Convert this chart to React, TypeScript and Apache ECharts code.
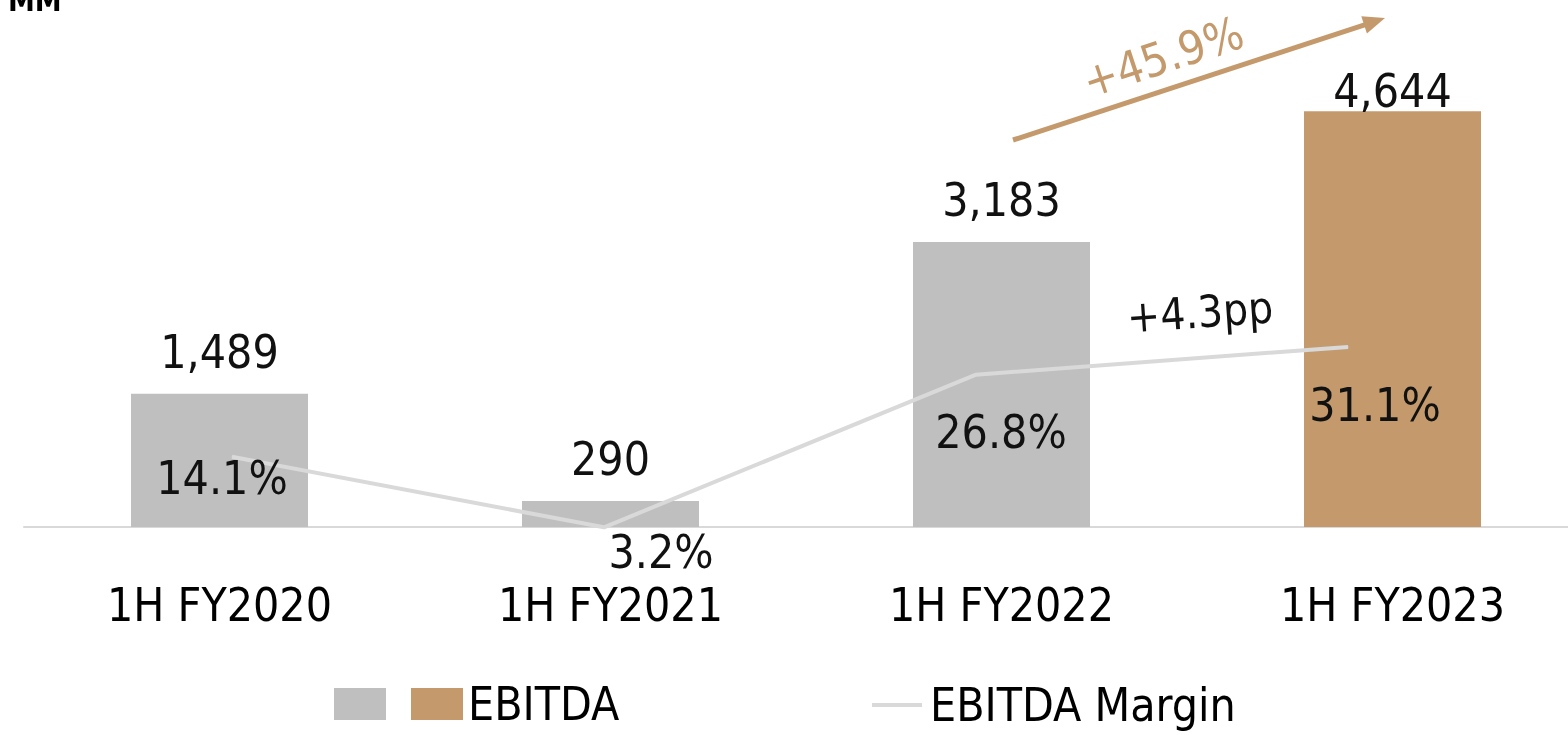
import React, { useEffect, useRef } from "react";
import * as echarts from "echarts";

const categories = ["1H FY2020", "1H FY2021", "1H FY2022", "1H FY2023"];
const ebitda = [1489, 290, 3183, 4644];
const margin = [14.1, 3.2, 26.8, 31.1];
const ebitdaLabels = ["1,489", "290", "3,183", "4,644"];
const growthLabel = "+45.9%";
const ppLabel = "+4.3pp";
const unitLabel = "MM";

const GRAY = "#BFBFBF";
const TAN = "#C49A6C";
const LINE = "#D9D9D9";
const FONT = '"Liberation Sans Narrow", "DejaVu Sans Condensed", "Roboto", sans-serif';

export default function App() {
  const ref = useRef<HTMLDivElement>(null);
  useEffect(() => {
    if (!ref.current) return;
    const chart = echarts.init(ref.current, null, { renderer: "svg" });
    const barColors = [GRAY, GRAY, GRAY, TAN];
    const barDist = [19, 19, 19, -3];
    const marginOffsets = [
      [-10, 21],
      [57, 25],
      [25, 57],
      [27, 58],
    ];
    const dir = [0.95, -0.312];
    const perp = [0.312, 0.95];
    const tip = [1385, 18];
    const base = [tip[0] - 22 * dir[0], tip[1] - 22 * dir[1]];
    chart.setOption({
      animation: false,
      textStyle: { fontFamily: FONT },
      grid: [
        { left: 24, right: 12, top: 79.5, bottom: 208 },
        { left: 46, right: 66, top: 160, bottom: 187 },
      ],
      xAxis: [
        {
          type: "category",
          gridIndex: 0,
          data: categories,
          axisLine: { lineStyle: { color: LINE, width: 2 } },
          axisTick: { show: false },
          axisLabel: { fontSize: 46, color: "#000", margin: 55, fontFamily: FONT },
        },
        {
          type: "category",
          gridIndex: 1,
          data: categories,
          show: false,
        },
      ],
      yAxis: [
        { type: "value", gridIndex: 0, min: 0, max: 5000, show: false, splitLine: { show: false } },
        { type: "value", gridIndex: 1, min: 0, max: 60, show: false, splitLine: { show: false } },
      ],
      legend: [
        {
          data: ["EBITDA"],
          left: 411,
          top: 681,
          padding: 0,
          itemWidth: 52,
          itemHeight: 32,
          icon: "rect",
          selectedMode: false,
          itemGap: 5,
          textStyle: { fontSize: 46, color: "#000", fontFamily: FONT },
        },
        {
          data: ["EBITDA Margin"],
          left: 872,
          top: 682,
          padding: 0,
          itemWidth: 50,
          itemHeight: 4,
          icon: "rect",
          selectedMode: false,
          textStyle: { fontSize: 46, color: "#000", fontFamily: FONT, padding: [0, 0, 0, 3] },
        },
      ],
      series: [
        {
          name: "EBITDA",
          type: "bar",
          xAxisIndex: 0,
          yAxisIndex: 0,
          barWidth: 177,
          itemStyle: { color: TAN },
          data: ebitda.map((v, i) => ({
            value: v,
            itemStyle: { color: barColors[i] },
            label: {
              show: true,
              position: "top",
              distance: barDist[i],
              formatter: ebitdaLabels[i],
              fontSize: 46,
              color: "#111",
              fontFamily: FONT,
            },
          })),
        },
        {
          name: "EBITDA Margin",
          type: "line",
          xAxisIndex: 1,
          yAxisIndex: 1,
          symbol: "circle",
          symbolSize: 1,
          itemStyle: { color: LINE },
          lineStyle: { color: LINE, width: 4 },
          data: margin.map((v, i) => ({
            value: v,
            label: {
              show: true,
              position: "inside",
              align: "center",
              verticalAlign: "middle",
              offset: marginOffsets[i],
              formatter: v.toFixed(1) + "%",
              fontSize: 46,
              color: "#111",
              fontFamily: FONT,
            },
          })),
        },
      ],
      graphic: [
        { type: "rect", shape: { x: 334, y: 688, width: 52, height: 32 }, style: { fill: GRAY } },
        {
          type: "text",
          x: 8,
          y: 15,
          style: {
            text: unitLabel,
            fontSize: 30,
            fontWeight: "bold",
            fontFamily: FONT,
            fill: "#000",
            verticalAlign: "bottom",
          },
        },
        {
          type: "line",
          shape: { x1: 1013, y1: 140, x2: base[0] + 2, y2: base[1] - 0.6 },
          style: { stroke: TAN, lineWidth: 5 },
        },
        {
          type: "polygon",
          shape: {
            points: [
              tip,
              [base[0] + 9 * perp[0], base[1] + 9 * perp[1]],
              [base[0] - 9 * perp[0], base[1] - 9 * perp[1]],
            ],
          },
          style: { fill: TAN },
        },
        {
          type: "text",
          x: 1163,
          y: 57,
          rotation: 0.32,
          style: {
            text: growthLabel,
            fontSize: 46,
            fontFamily: FONT,
            fill: TAN,
            align: "center",
            verticalAlign: "middle",
          },
        },
        {
          type: "text",
          x: 1200,
          y: 312,
          rotation: 0.07,
          style: {
            text: ppLabel,
            fontSize: 44,
            fontFamily: FONT,
            fill: "#111",
            align: "center",
            verticalAlign: "middle",
          },
        },
      ],
    });
    return () => chart.dispose();
  }, []);
  return (
    <div style={{ position: "fixed", left: 0, top: 0, width: 1568, height: 735, overflow: "hidden" }}>
      <div ref={ref} style={{ width: 1600, height: 735 }} />
    </div>
  );
}
